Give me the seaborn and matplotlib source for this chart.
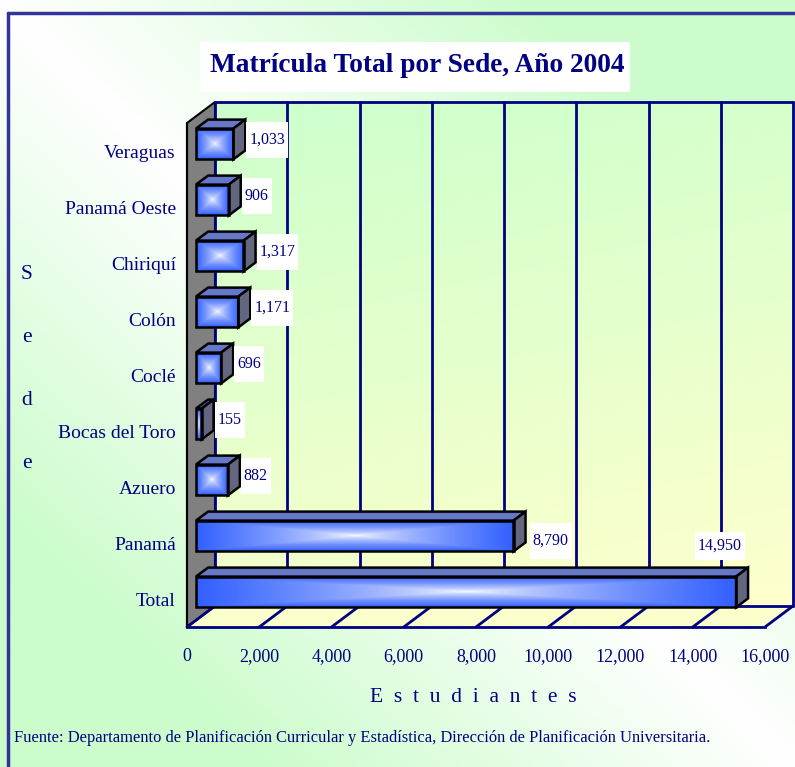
import numpy as np
import pandas as pd
import seaborn as sns
import matplotlib.pyplot as plt
from matplotlib.patches import Polygon, Rectangle
from matplotlib.transforms import ScaledTranslation, IdentityTransform

# data
sedes = ["Veraguas", "Panamá Oeste", "Chiriquí", "Colón", "Coclé",
         "Bocas del Toro", "Azuero", "Panamá", "Total"]
matricula = [1033, 906, 1317, 1171, 696, 155, 882, 8790, 14950]
x_ticks = [0, 2000, 4000, 6000, 8000, 10000, 12000, 14000, 16000]

titulo = "Matrícula Total por Sede, Año 2004"
eje_x = "E  s  t  u  d  i  a  n  t  e  s"
eje_y = "S\ne\nd\ne"
fuente = ("Fuente: Departamento de Planificación Curricular y Estadística, "
          "Dirección de Planificación Universitaria.")

NAVY = "#000080"
W, H = 795, 767
# 3D offsets in pixels (right, up)
WALL_DX, WALL_DY = 28, 21
BAR_DX, BAR_DY = 9, 7
DEPTH_DX, DEPTH_DY = 12, 9

sns.set_style("white")
plt.rcParams["font.family"] = ["Liberation Serif", "DejaVu Serif"]

fig = plt.figure(figsize=(W / 100, H / 100), dpi=100)

# outer background: green corners, white along the diagonal
bg = fig.add_axes([0, 0, 1, 1])
bg.set_axis_off()
yy, xx = np.mgrid[0:1:300j, 0:1:300j]
t = np.clip(np.abs(xx - yy) * 1.5, 0, 1)[..., None]
green = np.array([0.80, 0.99, 0.80])
bg.imshow(np.ones(3) * (1 - t) + green * t, extent=(0, 1, 0, 1),
          origin="upper", aspect="auto", zorder=0)
bg.set_xlim(0, 1)
bg.set_ylim(0, 1)
bg.plot([8 / W, 8 / W], [0, 1 - 13 / H], color="#333399", lw=2.5, zorder=1)
bg.plot([8 / W, 1], [1 - 13 / H, 1 - 13 / H], color="#333399", lw=2.5, zorder=1)

# title box
bg.add_patch(Rectangle((200 / W, 1 - 92 / H), 430 / W, 50 / H,
                       facecolor="white", edgecolor="none", zorder=2))
fig.text(417 / W, 1 - 65 / H, titulo, ha="center", va="center",
         fontsize=19.7, fontweight="bold", color=NAVY)

ax = fig.add_axes([187 / W, 140 / H, 578 / W, 504 / H])
ax.patch.set_alpha(0)

df = pd.DataFrame({"sede": sedes, "matricula": matricula})
sns.barplot(data=df, x="matricula", y="sede", orient="h", width=0.55,
            errorbar=None, color="#3366ff", edgecolor="black",
            linewidth=1.8, zorder=4, ax=ax)
bars = list(ax.patches)

ax.set_xlim(x_ticks[0], x_ticks[-1])
ax.set_ylim(len(sedes) - 0.5, -0.5)
ax.set_autoscale_on(False)
ax.set_xlabel("")
ax.set_ylabel("")
xmin, xmax = x_ticks[0], x_ticks[-1]
ytop, ybot = -0.5, len(sedes) - 0.5


def px(x, y, dx, dy):
    d = ax.transData.transform((x, y))
    return ax.transData.inverted().transform((d[0] + dx, d[1] + dy))


# back wall with vertical gradient green -> yellow
b0 = px(xmin, ybot, WALL_DX, WALL_DY)
b1 = px(xmax, ytop, WALL_DX, WALL_DY)
v = np.linspace(0, 1, 200)[:, None, None]
u = np.linspace(0, 1, 200)[None, :, None]
s = np.clip(0.8 * v + 0.2 * u, 0, 1)
wall = np.array([0.80, 1.0, 0.80]) * (1 - s) + np.array([1.0, 1.0, 0.80]) * s
ax.imshow(wall, extent=(b0[0], b1[0], b0[1], b1[1]), origin="upper",
          aspect="auto", zorder=0.2, clip_on=False)

# floor
fl = [(xmin, ybot), (xmax, ybot), px(xmax, ybot, WALL_DX, WALL_DY),
      px(xmin, ybot, WALL_DX, WALL_DY)]
ax.add_patch(Polygon(fl, closed=True, facecolor="#fbffcc", edgecolor="none",
                     zorder=0.3, clip_on=False))

# left wall
lw_pts = [(xmin, ytop), (xmin, ybot), px(xmin, ybot, WALL_DX, WALL_DY),
          px(xmin, ytop, WALL_DX, WALL_DY)]
ax.add_patch(Polygon(lw_pts, closed=True, facecolor="#808080",
                     edgecolor="black", lw=1.5, zorder=0.4, clip_on=False))

# grid lines on back wall and floor
for xt in x_ticks:
    p0 = px(xt, ybot, WALL_DX, WALL_DY)
    p1 = px(xt, ytop, WALL_DX, WALL_DY)
    ax.plot([p0[0], p1[0]], [p0[1], p1[1]], color=NAVY, lw=2,
            zorder=0.8, clip_on=False)
    ax.plot([xt, p0[0]], [ybot, p0[1]], color=NAVY, lw=2,
            zorder=0.8, clip_on=False)
for yv in (ytop, ybot):
    p0 = px(xmin, yv, WALL_DX, WALL_DY)
    p1 = px(xmax, yv, WALL_DX, WALL_DY)
    ax.plot([p0[0], p1[0]], [p0[1], p1[1]], color=NAVY, lw=2,
            zorder=0.8, clip_on=False)

# bars: gradient front face plus top and side faces
off = ax.transData + ScaledTranslation(BAR_DX / 100, BAR_DY / 100,
                                       fig.dpi_scale_trans)
gy, gx = np.mgrid[-1:1:80j, -1:1:80j]
g = np.maximum(np.abs(gx), np.abs(gy))[..., None] ** 0.7
blue = np.array([0.20, 0.38, 1.0])
grad = np.ones(3) * (1 - g) + blue * g

for bar in bars:
    x0, w = bar.get_x(), bar.get_width()
    y0, h = bar.get_y(), bar.get_height()
    bar.set_transform(off)
    bar.set_facecolor("none")
    bar.set_clip_on(False)
    ax.imshow(grad, extent=(x0, x0 + w, y0 + h, y0), origin="upper",
              aspect="auto", transform=off, zorder=3.5, clip_on=False)
    a = px(x0, y0, BAR_DX, BAR_DY)
    b = px(x0 + w, y0, BAR_DX, BAR_DY)
    e = px(x0 + w, y0 + h, BAR_DX, BAR_DY)
    c = px(x0 + w, y0, BAR_DX + DEPTH_DX, BAR_DY + DEPTH_DY)
    d = px(x0, y0, BAR_DX + DEPTH_DX, BAR_DY + DEPTH_DY)
    f = px(x0 + w, y0 + h, BAR_DX + DEPTH_DX, BAR_DY + DEPTH_DY)
    ax.add_patch(Polygon([a, b, c, d], closed=True, facecolor="#6677c8",
                         edgecolor="black", lw=1.8, zorder=3.6, clip_on=False))
    ax.add_patch(Polygon([b, e, f, c], closed=True, facecolor="#62667e",
                         edgecolor="black", lw=1.8, zorder=3.6, clip_on=False))

# value labels (offsets in px: right, up)
label_off = [(25, 11)] * 7 + [(28, 2), (-7, 53)]
label_ha = ["left"] * 8 + ["center"]
anns = []
for i, (val, (ox, oy), ha) in enumerate(zip(matricula, label_off, label_ha)):
    anns.append(ax.annotate(f"{val:,}", xy=(val, i), xytext=(ox * 0.72, oy * 0.72),
                            textcoords="offset points", ha=ha, va="center",
                            fontsize=11.5, color=NAVY, zorder=7,
                            annotation_clip=False))

# ticks and spines
ax.set_xticks(x_ticks)
ax.set_xticklabels([f"{xt:,}" for xt in x_ticks])
ax.set_yticks(range(len(sedes)))
ax.set_yticklabels(sedes)
ax.set_yticks(np.arange(-0.5, len(sedes), 1), minor=True)
ax.tick_params(axis="y", which="major", length=0, pad=8,
               labelsize=14, labelcolor=NAVY)
ax.tick_params(axis="y", which="minor", length=6, width=1.5, color="black")
ax.tick_params(axis="x", which="major", length=6, width=2, color=NAVY,
               pad=9, labelsize=13, labelcolor=NAVY)
for side in ("top", "right"):
    ax.spines[side].set_visible(False)
ax.spines["left"].set_color("black")
ax.spines["left"].set_linewidth(1.5)
ax.spines["bottom"].set_color(NAVY)
ax.spines["bottom"].set_linewidth(2)

fig.text(473 / W, 1 - 697 / H, eje_x, ha="center", va="center",
         fontsize=15.5, color=NAVY)
fig.text(27 / W, 1 - 369 / H, eje_y, ha="center", va="center",
         fontsize=15.5, color=NAVY, linespacing=4.15)
fig.text(14 / W, 1 - 738 / H, fuente, ha="left", va="center",
         fontsize=11.9, color=NAVY)

# white boxes behind value labels
fig.canvas.draw()
for ann in anns:
    bb = ann.get_window_extent()
    pad_y = 6 if ann is anns[-1] else 10
    ax.add_artist(Rectangle((bb.x0 - 3, bb.y0 - pad_y), bb.width + 6,
                            bb.height + 2 * pad_y, transform=IdentityTransform(),
                            facecolor="white", edgecolor="none", zorder=6,
                            clip_on=False))

fig.savefig("out.png", dpi=100)
